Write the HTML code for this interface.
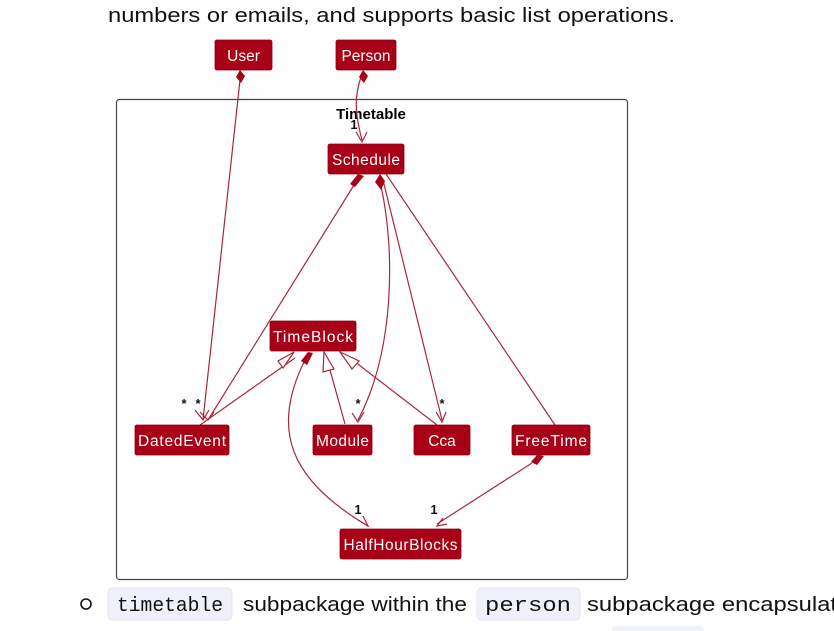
<!DOCTYPE html>
<html><head><meta charset="utf-8"><style>
html,body{margin:0;padding:0;background:#fff;width:834px;height:631px;overflow:hidden}
svg{display:block}
.n{fill:#a80016;stroke:#8a0012;stroke-width:0.8}
.t{fill:#fff;font-family:"Liberation Sans",sans-serif;font-size:15.5px}
.l{fill:none;stroke:#a8283a;stroke-width:1.2}
.m{font-family:"Liberation Sans",sans-serif;font-size:13px;font-weight:bold;fill:#111}
</style></head><body>
<svg width="834" height="631" viewBox="0 0 834 631" xmlns="http://www.w3.org/2000/svg">
<text x="108" y="22" font-family="Liberation Sans,sans-serif" font-size="20" fill="#111" textLength="567" lengthAdjust="spacingAndGlyphs">numbers or emails, and supports basic list operations.</text>
<rect x="107" y="32" width="526" height="550" fill="#fefefe"/>
<rect x="116.5" y="99.5" width="511" height="480" rx="3" fill="#fff" stroke="#444" stroke-width="1.2"/>
<text x="371" y="119" text-anchor="middle" font-family="Liberation Sans,sans-serif" font-size="15" font-weight="bold">Timetable</text>
<text x="354" y="129" text-anchor="middle" class="m">1</text>
<path class="l" d="M240 80 L203 420"/>
<path class="l" d="M354 185 L208 420"/>
<path class="l" d="M361 77 C355 95 354 110 362 140"/>
<path class="l" d="M381 186 C395 250 395 350 358 420"/>
<path class="l" d="M383 180 L442 420"/>
<path class="l" d="M386 174 L555 425"/>
<path class="l" d="M200 425 L295 358"/>
<path class="l" d="M345 424 L330 370"/>
<path class="l" d="M437 425 L350 358"/>
<path class="l" d="M305 360 C270 430 290 480 368 526"/>
<path class="l" d="M532 463 L437 524"/>
<path class="l" d="M195 410 L203 420 L209 410"/>
<path class="l" d="M200 412 L208 420 L214 412"/>
<path class="l" d="M356 132 L362 142 L367 132"/>
<path class="l" d="M352 413 L358 422 L364 412"/>
<path class="l" d="M436 412 L442 422 L446 412"/>
<path class="l" d="M358 520 L368 526 L363 516"/>
<path class="l" d="M443 518 L437 526 L447 524"/>
<path d="M240 70 L245 76 L241 83 L236 77 Z" fill="#a80016"/>
<path d="M363 70 L368 76 L364 83 L359 77 Z" fill="#a80016"/>
<path d="M358 174 L364 176 L355 187 L350 184 Z" fill="#a80016"/>
<path d="M380 174 L385 181 L381 190 L375 182 Z" fill="#a80016"/>
<path d="M308 352 L313 353 L307 365 L301 361 Z" fill="#a80016"/>
<path d="M537 455 L544 456 L537 465 L531 462 Z" fill="#a80016"/>
<path d="M294 352 L283 368 L278 361 Z" fill="#fff" stroke="#a8283a" stroke-width="1.2"/>
<path d="M324 352 L334 369 L323 372 Z" fill="#fff" stroke="#a8283a" stroke-width="1.2"/>
<path d="M340 352 L359 361 L352 369 Z" fill="#fff" stroke="#a8283a" stroke-width="1.2"/>
<text x="184" y="408" text-anchor="middle" class="m" font-weight="normal">*</text>
<text x="198" y="408" text-anchor="middle" class="m" font-weight="normal">*</text>
<text x="358" y="408" text-anchor="middle" class="m" font-weight="normal">*</text>
<text x="442" y="408" text-anchor="middle" class="m" font-weight="normal">*</text>
<text x="358" y="514" text-anchor="middle" class="m">1</text>
<text x="434" y="514" text-anchor="middle" class="m">1</text>
<rect class="n" x="215" y="40" width="57" height="30" rx="2"/><text class="t" x="243.5" y="61" text-anchor="middle">User</text>
<rect class="n" x="336" y="40" width="60" height="30" rx="2"/><text class="t" x="366" y="61" text-anchor="middle">Person</text>
<rect class="n" x="328" y="144" width="76" height="30" rx="2"/><text class="t" x="366" y="165" text-anchor="middle" textLength="68">Schedule</text>
<rect class="n" x="270" y="321" width="86" height="30" rx="2"/><text class="t" x="313" y="342" text-anchor="middle" textLength="80">TimeBlock</text>
<rect class="n" x="135" y="425" width="94" height="30" rx="2"/><text class="t" x="182" y="446" text-anchor="middle" textLength="88">DatedEvent</text>
<rect class="n" x="313" y="425" width="59" height="30" rx="2"/><text class="t" x="342.5" y="446" text-anchor="middle" textLength="53">Module</text>
<rect class="n" x="414" y="425" width="56" height="30" rx="2"/><text class="t" x="442" y="446" text-anchor="middle">Cca</text>
<rect class="n" x="512" y="425" width="78" height="30" rx="2"/><text class="t" x="551" y="446" text-anchor="middle" textLength="72">FreeTime</text>
<rect class="n" x="340" y="529" width="121" height="30" rx="2"/><text class="t" x="400.5" y="550" text-anchor="middle" textLength="114">HalfHourBlocks</text>
<circle cx="86" cy="604" r="5" fill="none" stroke="#111" stroke-width="1.6"/>
<rect x="108" y="588" width="124" height="32" rx="5" fill="#f0f0fa" stroke="#e4e4f0"/>
<text x="117" y="611" font-family="Liberation Mono,monospace" font-size="20" fill="#111" textLength="106" lengthAdjust="spacingAndGlyphs">timetable</text>
<text x="243" y="611" font-family="Liberation Sans,sans-serif" font-size="20" fill="#111" textLength="224" lengthAdjust="spacingAndGlyphs">subpackage within the</text>
<rect x="477" y="588" width="103" height="32" rx="5" fill="#f0f0fa" stroke="#e4e4f0"/>
<text x="485" y="611" font-family="Liberation Mono,monospace" font-size="20" fill="#111" textLength="86" lengthAdjust="spacingAndGlyphs">person</text>
<text x="587" y="611" font-family="Liberation Sans,sans-serif" font-size="20" fill="#111" textLength="250" lengthAdjust="spacingAndGlyphs">subpackage encapsulat</text>
<rect x="612" y="626" width="92" height="10" rx="4" fill="#f0f0fa"/>
</svg>
</body></html>
